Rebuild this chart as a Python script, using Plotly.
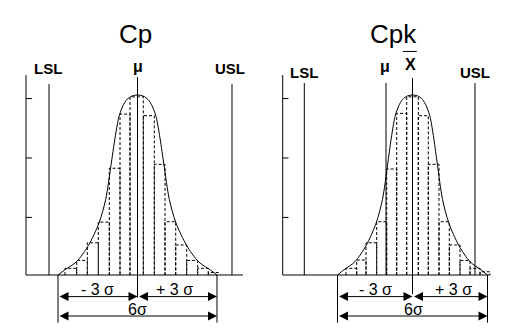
import plotly.graph_objects as go

# ---------------- data (x in sigma units about the process centre, y relative to peak) -------------
curve_x = [-3.0, -2.75, -2.3, -1.85, -1.45, -1.2, -1.0, -0.85, -0.7, -0.55, -0.4, -0.2, 0.0,
           0.2, 0.4, 0.55, 0.7, 0.85, 1.0, 1.2, 1.45, 1.85, 2.3, 2.75, 3.0]
curve_y = [0.0, 0.028, 0.074, 0.165, 0.29, 0.42, 0.61, 0.76, 0.88, 0.94, 0.975, 0.995, 1.0,
           0.995, 0.975, 0.94, 0.88, 0.76, 0.61, 0.42, 0.29, 0.165, 0.074, 0.028, 0.0]

cp_edges = [-2.736, -2.294, -1.894, -1.479, -1.064, -0.660, -0.283, 0.219, 0.634, 1.038,
            1.442, 1.857, 2.272, 2.672, 3.049]
cp_heights = [0.037, 0.081, 0.179, 0.294, 0.593, 0.894, 0.99, 0.885, 0.615, 0.296,
              0.167, 0.081, 0.037, 0.014]

cpk_edges = [-2.66, -2.232, -1.86, -1.432, -1.032, -0.632, -0.232, 0.232, 0.632, 1.06,
             1.472, 1.9, 2.3, 2.7, 3.1]
cpk_heights = [0.037, 0.083, 0.179, 0.296, 0.589, 0.898, 0.99, 0.885, 0.615, 0.296,
               0.167, 0.081, 0.037, 0.018]

tick_vals = [0.32, 0.65, 0.98]

cp_spec = dict(axis=-4.208, lsl=-3.34, usl=3.566, base_end=3.98)
cpk_spec = dict(axis=-5.192, lsl=-4.328, mu=-1.06, usl=2.5, base_end=3.1)

titles = ["Cp", "Cpk"]
sigma_labels = ["- 3 σ", "+ 3 σ", "6σ"]

# ---------------- layout helpers ----------------
Y_RANGE = [-0.3167, 1.5278]
FONT = "Arial, Liberation Sans, sans-serif"

fig = go.Figure()
annotations = []
shapes = []


def seg_trace(xs, ys, xa, ya, width=1, dash=None, color="black"):
    fig.add_trace(go.Scatter(x=xs, y=ys, mode="lines", xaxis=xa, yaxis=ya,
                             line=dict(color=color, width=width, dash=dash),
                             hoverinfo="skip", showlegend=False))


def panel(xa, ya, edges, heights, spec, centre_bottom, centre_top, spec_top, axis_top):
    xr, yr = xa, ya
    # histogram (dashed outlines)
    bx, by = [], []
    for l, r, h in zip(edges[:-1], edges[1:], heights):
        bx += [l, l, r, r, None]
        by += [0, h, h, 0, None]
    seg_trace(bx, by, xa, ya, width=1, dash="3px,2px", color="black")
    # axis line, baseline, ticks
    seg_trace([spec["axis"], spec["axis"], spec["base_end"]], [axis_top, 0, 0], xa, ya)
    tx, ty = [], []
    tl = 0.23
    for t in tick_vals:
        tx += [spec["axis"], spec["axis"] + tl, None]
        ty += [t, t, None]
    seg_trace(tx, ty, xa, ya)
    # spec limits
    for k in ("lsl", "usl"):
        seg_trace([spec[k], spec[k]], [0, spec_top], xa, ya)
    if "mu" in spec:
        seg_trace([spec["mu"], spec["mu"]], [0, spec_top], xa, ya)
    # centre line
    seg_trace([0, 0], [centre_bottom, centre_top], xa, ya)
    # extension lines for +-3 sigma
    for e in (curve_x[0], curve_x[-1]):
        seg_trace([e, e], [0, -0.265], xa, ya)
    # curve
    fig.add_trace(go.Scatter(x=curve_x, y=curve_y, mode="lines", xaxis=xa, yaxis=ya,
                             line=dict(color="black", width=1, shape="spline", smoothing=0.8),
                             hoverinfo="skip", showlegend=False))
    # dimension arrows
    for (a, b, yy) in ((curve_x[0], 0, -0.12), (0, curve_x[-1], -0.12),
                       (curve_x[0], curve_x[-1], -0.228)):
        annotations.append(dict(x=b, y=yy, ax=a, ay=yy, xref=xr, yref=yr, axref=xr, ayref=yr,
                                text="", showarrow=True, arrowhead=2, startarrowhead=2,
                                arrowside="end+start", arrowsize=1.8, startarrowsize=1.8,
                                arrowwidth=1, arrowcolor="black", standoff=0, startstandoff=0))


panel("x", "y", cp_edges, cp_heights, cp_spec, -0.126, 1.1, 1.061, 1.111)
panel("x2", "y2", cpk_edges, cpk_heights, cpk_spec, -0.106, 1.094, 1.067, 1.111)


def txt(x, y, s, xr, yr, size=13, bold=False):
    annotations.append(dict(x=x, y=y, xref=xr, yref=yr, text=("<b>%s</b>" % s) if bold else s,
                            showarrow=False, xanchor="center", yanchor="middle",
                            font=dict(family=FONT, size=size, color="black")))


# left panel texts
txt(-0.09, 1.34, titles[0], "x", "y", size=26)
txt(cp_spec["lsl"] - 0.03, 1.145, "LSL", "x", "y", size=15, bold=True)
txt(cp_spec["usl"] - 0.08, 1.145, "USL", "x", "y", size=15, bold=True)
txt(0, 1.16, "μ", "x", "y", size=16, bold=True)
txt(-1.51, -0.079, sigma_labels[0], "x", "y", size=16)
txt(1.385, -0.079, sigma_labels[1], "x", "y", size=16)
txt(0, -0.194, sigma_labels[2], "x", "y", size=16)

# right panel texts
txt(-0.78, 1.34, titles[1], "x2", "y2", size=26)
txt(cpk_spec["lsl"] - 0.01, 1.127, "LSL", "x2", "y2", size=15, bold=True)
txt(cpk_spec["usl"], 1.127, "USL", "x2", "y2", size=15, bold=True)
txt(cpk_spec["mu"] - 0.04, 1.16, "μ", "x2", "y2", size=16, bold=True)
txt(-1.468, -0.079, sigma_labels[0], "x2", "y2", size=16)
txt(1.632, -0.079, sigma_labels[1], "x2", "y2", size=16)
txt(0.02, -0.194, sigma_labels[2], "x2", "y2", size=16)
xbar_x, xbar_y = -0.1, 1.17
txt(xbar_x, xbar_y, "X", "x2", "y2", size=16, bold=True)
shapes.append(dict(type="line", xref="x2", yref="y2", x0=xbar_x - 0.29, x1=xbar_x + 0.27,
                   y0=xbar_y + 0.072, y1=xbar_y + 0.072, line=dict(color="black", width=1)))

axis_common = dict(visible=False, showgrid=False, zeroline=False, fixedrange=True)
fig.update_layout(
    width=520, height=332, autosize=False,
    margin=dict(l=0, r=0, t=0, b=0),
    paper_bgcolor="white", plot_bgcolor="white",
    showlegend=False,
    xaxis=dict(domain=[0, 0.5], range=[-5.189, 4.623], anchor="y", **axis_common),
    yaxis=dict(domain=[0, 1], range=Y_RANGE, anchor="x", **axis_common),
    xaxis2=dict(domain=[0.5, 1], range=[-6.1, 4.3], anchor="y2", **axis_common),
    yaxis2=dict(domain=[0, 1], range=Y_RANGE, anchor="x2", **axis_common),
    annotations=annotations,
    shapes=shapes,
)

fig.write_html("out.html")
